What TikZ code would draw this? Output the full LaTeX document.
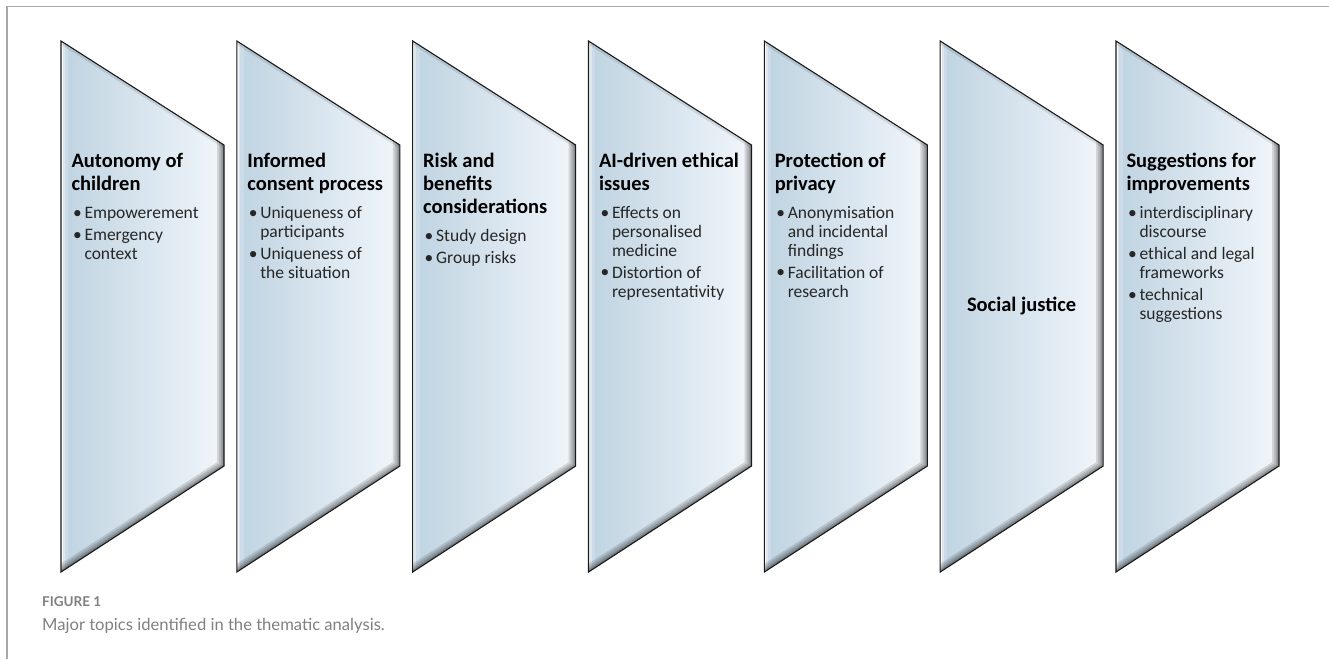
\documentclass[tikz,border=0pt]{standalone}
\usepackage{fontspec}
\setmainfont{Carlito}
\newfontfamily\capfont{Lato}

\definecolor{fillL}{HTML}{BFD3E1}
\definecolor{fillR}{HTML}{F1F6FB}
\definecolor{edgecol}{HTML}{1A1A1A}
\definecolor{framecol}{HTML}{A8A8A8}
\definecolor{capgray}{HTML}{808080}
\definecolor{bulcol}{HTML}{262626}

% one bevelled pentagon, #1 = left x
\newcommand\topicshape[1]{%
  \begin{scope}
    \clip (#1,41) -- ++(163,104) -- ++(0,321) -- (#1,572) -- cycle;
    \shade[left color=fillL, right color=fillR] (#1,30) rectangle ++(163,550);
    % light bevel on the left edge
    \draw[white, opacity=0.18, line width=14pt] (#1,580) -- (#1,30);
    \draw[white, opacity=0.35, line width=7pt] (#1,580) -- (#1,30);
    \draw[white, opacity=0.8, line width=3.5pt] (#1,580) -- (#1,30);
    % soft shade under the top edge
    \draw[black, opacity=0.10, line width=6pt] (#1,41) -- ++(163,104);
    % dark bevel on the right and lower edges
    \foreach \w in {14,10,6,3.5}
      \draw[black, opacity=0.13, line width=\w pt, line join=miter]
        (#1+163,140) -- (#1+163,466) -- (#1,572);
  \end{scope}
  \draw[edgecol, line width=1.1pt, line join=miter]
    (#1,41) -- ++(163,104) -- ++(0,321) -- (#1,572) -- cycle;
}

% text helpers
\newcommand\ttl[1]{{\fontsize{20.5}{23}\selectfont\bfseries\leavevmode\color{black}#1\par}\vspace{6.5pt}}
\newcommand\bl[1]{\par\hangindent=13pt\hangafter=1\noindent
  \hspace*{1.5pt}\makebox[11.5pt][l]{\raisebox{0.5pt}{\textbullet}}{\let\\\newline#1}}
\newcommand\topictext[1]{\parbox[t]{175pt}{\raggedright\setlength{\parskip}{3.5pt}%
  \fontsize{17.5}{18.7}\selectfont#1}}

\tikzset{
  topictext/.style={anchor=base west, inner sep=0pt, outer sep=0pt, text=bulcol},
  centretext/.style={anchor=center, inner sep=0pt, font=\fontsize{20.5}{23}\selectfont\bfseries},
  figlabel/.style={anchor=base west, inner sep=0pt, text=capgray,
    font=\capfont\bfseries\fontsize{13.5}{16}\selectfont},
  figcaption/.style={anchor=base west, inner sep=0pt, text=capgray,
    font=\capfont\fontsize{16.6}{20}\selectfont},
}

\begin{document}
\begin{tikzpicture}[x=1pt, y=-1pt]
\useasboundingbox (0,0) rectangle (1329,659);
\fill[white] (0,0) rectangle (1329,659);

% outer frame (top and left rules)
\draw[framecol, line width=1.3pt] (7,659) -- (7,6.5) -- (1329,6.5);

% the seven pentagons
\foreach \i in {0,...,6} {
  \pgfmathsetmacro\L{61+\i*175.83}
  \topicshape{\L}
}

\node[topictext] (t1) at (71.5,167) {\topictext{%
  \ttl{Autonomy of\\children}
  \bl{Empowerement}
  \bl{Emergency\\context}}};

\node[topictext] (t2) at (247.3,167) {\topictext{%
  \ttl{Informed\\consent process}
  \bl{Uniqueness of\\participants}
  \bl{Uniqueness of\\the situation}}};

\node[topictext] (t3) at (423.2,167) {\topictext{%
  \ttl{Risk and\\benefits\\considerations}
  \bl{Study design}
  \bl{Group risks}}};

\node[topictext] (t4) at (599,167) {\topictext{%
  \ttl{AI-driven ethical\\issues}
  \bl{Effects on\\personalised\\medicine}
  \bl{Distortion of\\representativity}}};

\node[topictext] (t5) at (774.8,167) {\topictext{%
  \ttl{Protection of\\privacy}
  \bl{Anonymisation\\and incidental\\findings}
  \bl{Facilitation of\\research}}};

\node[centretext] (t6) at (1021.6,306) {Social justice};

\node[topictext] (t7) at (1126.5,167) {\topictext{%
  \ttl{Suggestions for\\improvements}
  \bl{interdisciplinary\\discourse}
  \bl{ethical and legal\\frameworks}
  \bl{technical\\suggestions}}};

% caption
\node[figlabel] (figlab) at (42,606) {FIGURE 1};
\node[figcaption] (figcap) at (42,630) {Major topics identified in the thematic analysis.};
\end{tikzpicture}
\end{document}
